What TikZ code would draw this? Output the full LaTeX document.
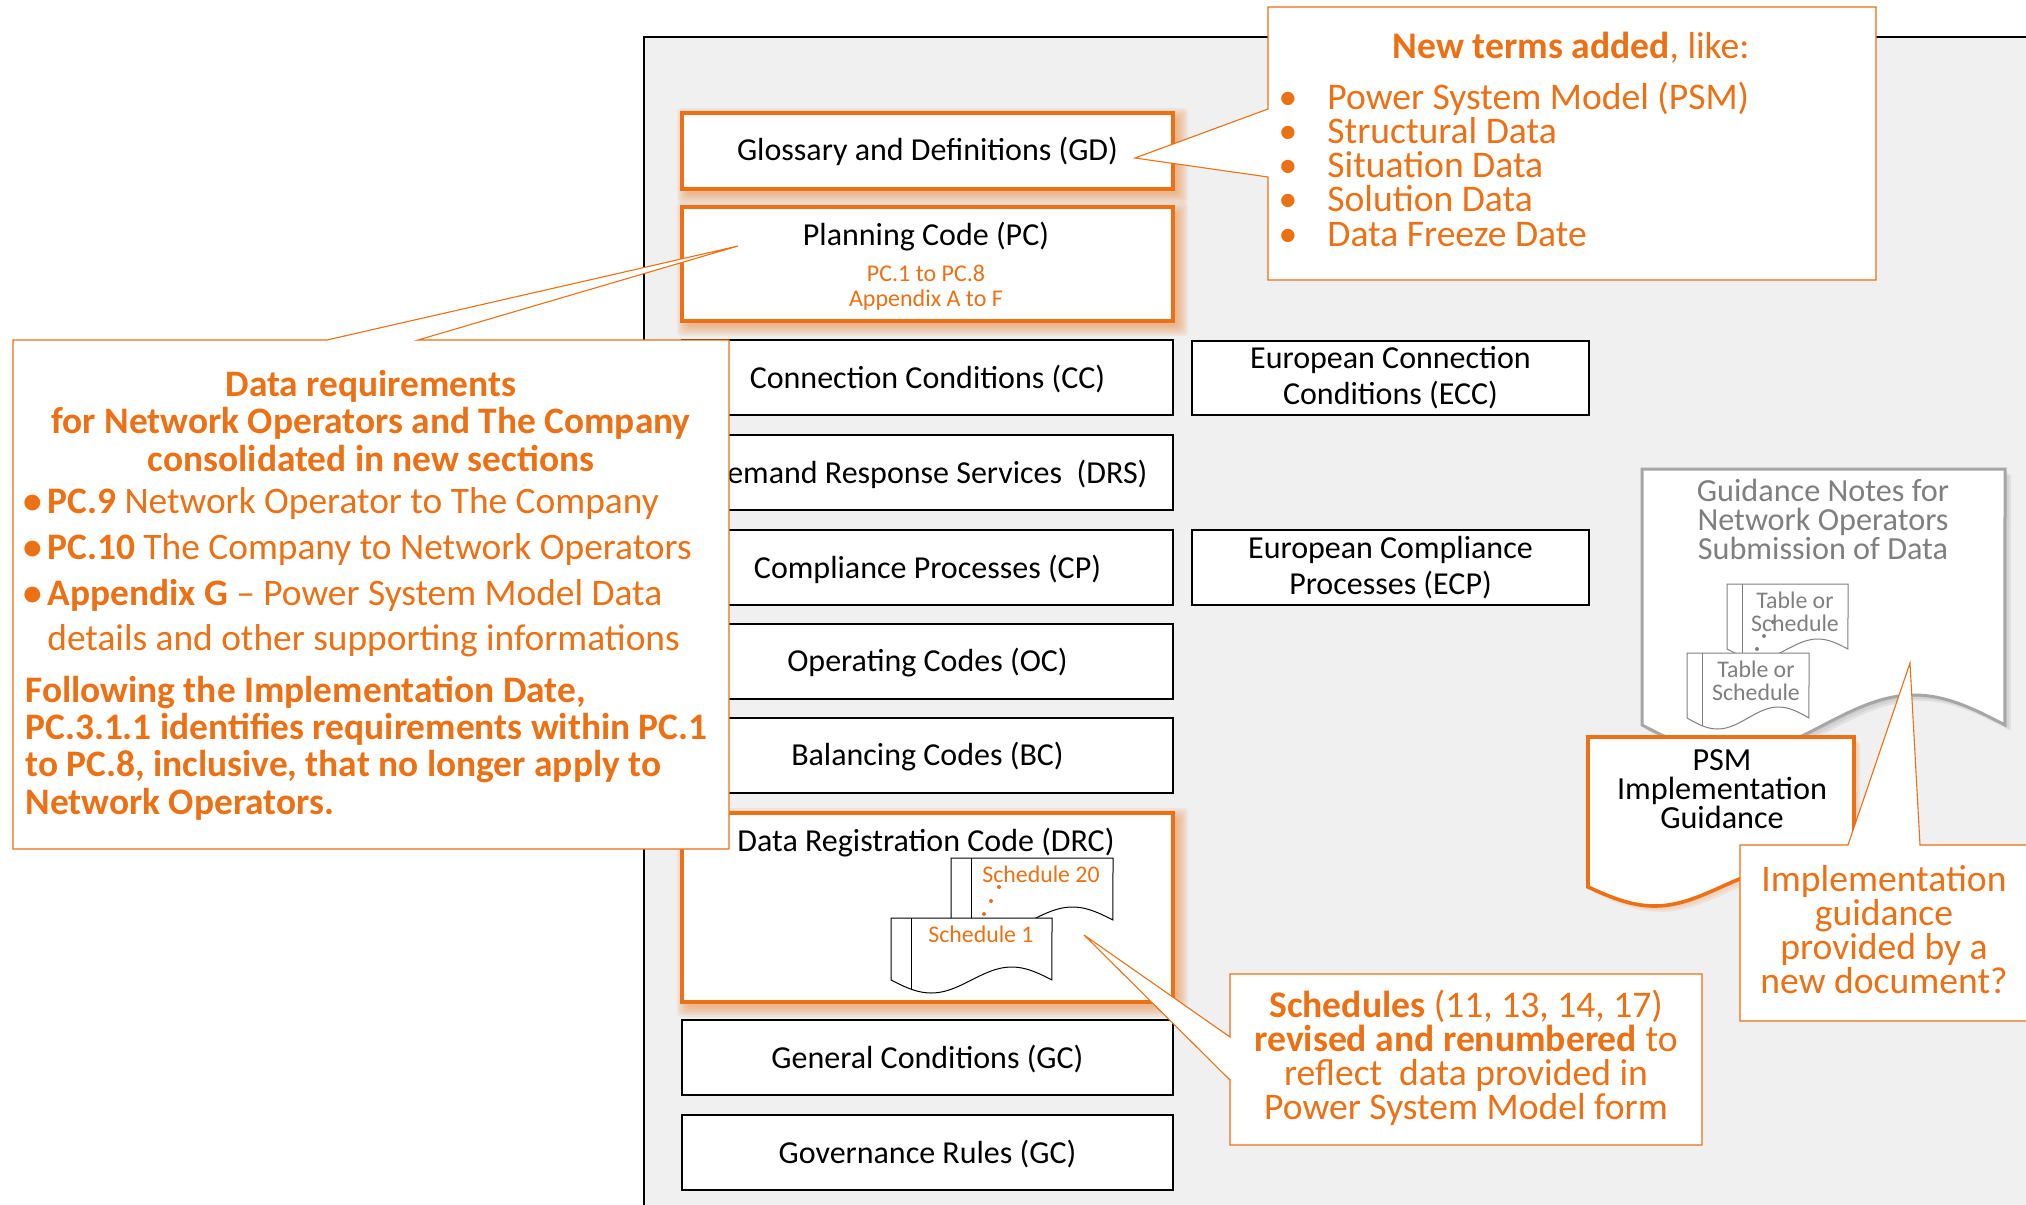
\documentclass[tikz,border=0pt]{standalone}
\usepackage{fontspec}
\setmainfont{Carlito}
\definecolor{org}{HTML}{EC7014}
\definecolor{panelbg}{HTML}{F0F0F0}
\definecolor{gtxt}{HTML}{7F7F7F}
\definecolor{gline}{HTML}{A6A6A6}
\newcommand{\fs}[2]{\fontsize{#1}{#2}\selectfont}
% soft shadow of a rectangle
\newcommand{\softshadow}[5]{%
  \foreach \e in {10,8,6,4,2,0}{%
    \fill[#5,opacity=.09,rounded corners=2pt] ({#1+5-\e},{#2+5-\e}) rectangle ({#3+5+\e},{#4+5+\e});}}
% a box node given by its corners
\newcommand{\bx}[7]{%
  \node[#6,minimum width={(#4-#2)*0.5pt},minimum height={(#5-#3)*0.5pt}] (#1) at ({(#2+#4)/2},{(#3+#5)/2}) {#7};}
% document with a wavy lower edge: x0,x1,ytop,yend,amplitude
\newcommand{\docpath}[5]{(#1,#3) -- (#1,#4) -- plot[domain=0:1,samples=49,smooth] ({#1+\x*((#2)-(#1))},{#4+#5*sin(360*\x)}) -- (#2,#3) -- cycle}
\newcommand{\inner}[6]{\draw[#6] (#1,#3) -- ({#1},{#4+#5*sin(360*(#1-#2)/\docw)});}
\tikzset{
  blackbox/.style={draw=black,line width=1.1pt,fill=white,inner sep=0pt,align=center,font=\fs{16}{18},execute at begin node={\rule{0pt}{13.2pt}}},
  orangebox/.style={draw=org,line width=1.8pt,fill=white,inner sep=0pt,align=center,font=\fs{16}{18}},
  callout/.style={draw=org,line width=.55pt,fill=white,line join=miter},
  ctext/.style={text=org,inner sep=0pt,font=\fs{18.8}{17}},
  ltext/.style={text=org,inner sep=0pt,font=\fs{18.7}{18.7}},
  doc/.style={line width=.5pt,fill=white},
  gdot/.style={circle,fill=gtxt,inner sep=0pt,minimum size=2pt},
  odot/.style={circle,fill=org,inner sep=0pt,minimum size=2pt},
}
\begin{document}
\begin{tikzpicture}[x=0.5pt,y=-0.5pt]
\useasboundingbox (0,0) rectangle (2026,1205);
\clip (0,0) rectangle (2026,1205);
% panel
\fill[panelbg] (644,37) rectangle (2030,1210);
\draw[black,line width=1.1pt] (644,1215) -- (644,37) -- (2035,37);
% orange box shadows
\softshadow{682}{113}{1173}{189}{org}
\softshadow{682}{207}{1173}{321}{org}
\softshadow{682}{813}{1173}{1002}{org}
% code boxes
\bx{gd}{682}{113}{1173}{189}{orangebox}{Glossary and Definitions (GD)}
\bx{pc}{682}{207}{1173}{321}{orangebox}{}
\node[font=\fs{16}{18},inner sep=0pt,anchor=mid] (pct) at (926,240.5) {Planning Code (PC)};
\node[font=\fs{12}{12.5},text=org,inner sep=0pt,align=center] (pcs) at (926,288) {PC.1 to PC.8\\Appendix A to F};
\bx{cc}{682}{340}{1173}{415}{blackbox}{Connection Conditions (CC)}
\bx{drs}{682}{435}{1173}{510}{blackbox}{Demand Response Services\ \ (DRS)}
\bx{cp}{682}{530}{1173}{605}{blackbox}{Compliance Processes (CP)}
\bx{oc}{682}{624}{1173}{699}{blackbox}{Operating Codes (OC)}
\bx{bc}{682}{718}{1173}{793}{blackbox}{Balancing Codes (BC)}
\bx{drc}{682}{813}{1173}{1002}{orangebox}{}
\node[font=\fs{16}{18},inner sep=0pt,anchor=mid] (drct) at (926,846.5) {Data Registration Code (DRC)};
\bx{gc}{682}{1020}{1173}{1095}{blackbox}{General Conditions (GC)}
\bx{gr}{682}{1115}{1173}{1190}{blackbox}{Governance Rules (GC)}
\bx{ecc}{1192}{341}{1589}{415}{blackbox}{European Connection\\Conditions (ECC)}
\bx{ecp}{1192}{530}{1589}{605}{blackbox}{European Compliance\\Processes (ECP)}
% schedules
\draw[doc,draw=black] \docpath{951}{1113}{858}{920}{13};
\def\docw{162}
\inner{971}{951}{858}{920}{13}{doc,draw=black}
\node[font=\fs{11.9}{12},text=org,inner sep=0pt,anchor=mid] (s20) at (1041,878) {Schedule 20};
\node[odot] (od1) at (999,887) {};
\node[odot] (od2) at (991,901) {};
\node[odot] (od3) at (984,914) {};
\draw[doc,draw=black] \docpath{891}{1052}{918}{980}{13};
\inner{911}{891}{918}{980}{13}{doc,draw=black}
\node[font=\fs{11.9}{12},text=org,inner sep=0pt,anchor=mid] (s1) at (981,938) {Schedule 1};
% guidance document
\foreach \e in {2,4,6}{\fill[gtxt,opacity=.13] \docpath{1642+\e}{2005+\e}{469+\e}{725+\e}{30};}
\draw[line width=1.5pt,draw=gline,fill=white,line join=miter] \docpath{1642}{2005}{469}{725}{30};
\node[font=\fs{16.1}{14.5},text=gtxt,inner sep=0pt,align=center] (gn) at (1823,519) {Guidance Notes for\\Network Operators\\Submission of Data};
\draw[doc,draw=gtxt] \docpath{1727}{1848}{584}{649}{10};
\def\docw{121}
\inner{1742}{1727}{584}{649}{10}{doc,draw=gtxt}
\node[font=\fs{11.9}{11.5},text=gtxt,inner sep=0pt,align=center] (t1) at (1795,612) {Table or\\Schedule};
\node[gdot] (gd1) at (1773,622) {};
\node[gdot] (gd2) at (1764,636) {};
\node[gdot] (gd3) at (1757,649) {};
\draw[doc,draw=gtxt] \docpath{1687}{1809}{653}{718}{11};
\def\docw{122}
\inner{1702}{1687}{653}{718}{11}{doc,draw=gtxt}
\node[font=\fs{11.9}{11.5},text=gtxt,inner sep=0pt,align=center] (t2) at (1756,681) {Table or\\Schedule};
% PSM document
\foreach \e in {2,4,6}{\fill[org,opacity=.1] \docpath{1588+\e}{1854+\e}{737+\e}{887+\e}{19};}
\draw[line width=1.8pt,draw=org,fill=white,line join=miter] \docpath{1588}{1854}{737}{887}{19};
\node[font=\fs{16.1}{14.5},inner sep=0pt,align=center] (psm) at (1722,789) {PSM\\Implementation\\Guidance};
% callouts
\coordinate (t-gd) at (1135,158);
\draw[callout] (1268,7) -- (1876,7) -- (1876,280) -- (1268,280) -- (1268,177) -- (t-gd) -- (1268,109) -- cycle;
\coordinate (t-pc) at (738,246);
\draw[callout] (13,340) -- (327,340) -- (t-pc) -- (418,340) -- (729,340) -- (729,849) -- (13,849) -- cycle;
\coordinate (t-sc) at (1084,935);
\draw[callout] (1230,974) -- (1702,974) -- (1702,1145) -- (1230,1145) -- (1230,1080) -- (t-sc) -- (1230,1037) -- cycle;
\coordinate (t-im) at (1910,663);
\draw[callout] (1740,845) -- (1848,845) -- (t-im) -- (1920,845) -- (2035,845) -- (2035,1021) -- (1740,1021) -- cycle;
% callout texts: new terms
\node[ctext,anchor=mid] (nt) at (1571,54) {\textbf{New terms added}, like:};
\foreach \yy/\tt in {105/Power System Model (PSM),139/Structural Data,173/Situation Data,207/Solution Data,242/Data Freeze Date}{
  \node[ctext,anchor=mid] at (1288,\yy) {•};
  \node[ctext,anchor=mid west] at (1327,\yy) {\tt};
}
% data requirements
\node[ltext,align=center] (dr) at (371,421) {\textbf{Data requirements}\\\textbf{for Network Operators and The Company}\\\textbf{consolidated in new sections}};
\foreach \yy in {509,555,601}{\node[ltext,anchor=mid] at (33,\yy) {\textbf{•}};}
\node[ltext,anchor=mid west] (b1) at (47,509) {\textbf{PC.9} Network Operator to The Company};
\node[ltext,anchor=mid west] (b2) at (47,555) {\textbf{PC.10} The Company to Network Operators};
\node[ltext,anchor=mid west] (b3) at (47,601) {\textbf{Appendix G} – Power System Model Data};
\node[ltext,anchor=mid west] (b4) at (47,646) {details and other supporting informations};
\node[ltext,anchor=west,align=left] (fl) at (25,748) {\textbf{Following the Implementation Date,}\\\textbf{PC.3.1.1 identifies requirements within PC.1}\\\textbf{to PC.8, inclusive, that no longer apply to}\\\textbf{Network Operators.}};
% schedules revised
\node[ctext,align=center] (sr) at (1466,1058) {\textbf{Schedules} (11, 13, 14, 17)\\\textbf{revised and renumbered} to\\reflect\ \ data provided in\\Power System Model form};
% implementation
\node[ctext,align=center] (ig) at (1884,930) {Implementation\\guidance\\provided by a\\new document?};
\end{tikzpicture}
\end{document}
